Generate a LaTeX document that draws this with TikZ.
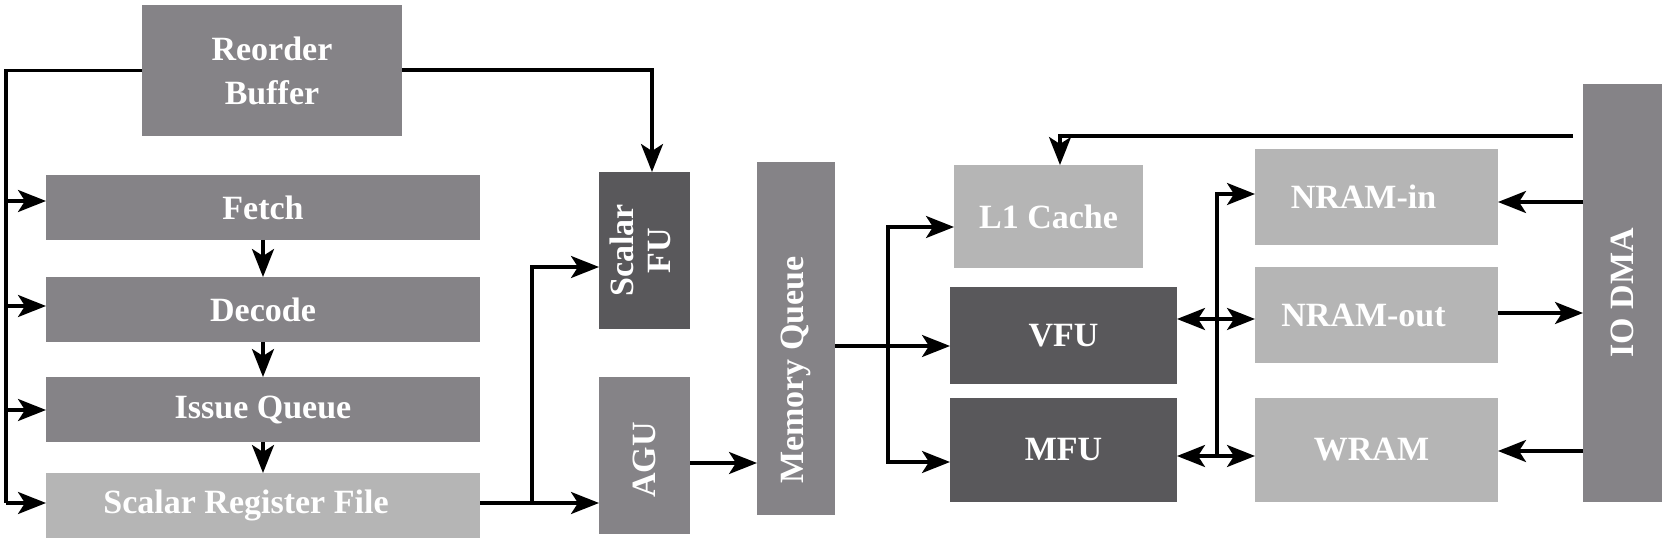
\documentclass[tikz,border=0pt]{standalone}
\usepackage{fontspec}
\setmainfont{Liberation Serif}
\usepackage{graphicx}
\usetikzlibrary{arrows.meta}
\definecolor{midgray}{RGB}{133,131,135}
\definecolor{darkgray}{RGB}{89,88,91}
\definecolor{lightgray}{RGB}{181,181,181}
\tikzset{
  box/.style={rectangle, inner sep=0pt, outer sep=0pt, text=white, align=center,
    font=\bfseries\fontsize{34}{44}\selectfont},
  midbox/.style={box, fill=midgray},
  darkbox/.style={box, fill=darkgray},
  lightbox/.style={box, fill=lightgray},
  wire/.style={line width=3.3pt, draw=black},
  arr/.style={wire, -{Stealth[length=28pt,width=22pt,inset=7pt]}},
  darr/.style={wire, {Stealth[length=28pt,width=22pt,inset=7pt]}-{Stealth[length=28pt,width=22pt,inset=7pt]}}
}
\begin{document}
\begin{tikzpicture}[x=1pt,y=-1pt]
\useasboundingbox (0,0) rectangle (1669,545);
% left column
\node[midbox, minimum width=260pt, minimum height=131pt] (rob) at (272,70.5) {Reorder\\Buffer};
\node[midbox, minimum width=434pt, minimum height=65pt] (fetch) at (263,207.5) {Fetch};
\node[midbox, minimum width=434pt, minimum height=65pt] (decode) at (263,309.5) {Decode};
\node[midbox, minimum width=434pt, minimum height=65pt] (issue) at (263,409.5) {Issue Queue};
\node[lightbox, minimum width=434pt, minimum height=65pt] (srf) at (263,505.5) {Scalar Register File\kern34pt};
% middle
\node[darkbox, minimum width=91pt, minimum height=157pt] (sfu) at (644.5,250.5)
  {\rotatebox{90}{\fontsize{34}{37}\selectfont\begin{tabular}{@{}c@{}}Scalar\\FU\end{tabular}}};
\node[midbox, minimum width=91pt, minimum height=157pt] (agu) at (644.5,455.5) {\rotatebox{90}{AGU\kern9pt}};
\node[midbox, minimum width=78pt, minimum height=353pt] (mq) at (796,338.5) {\rotatebox{90}{Memory Queue\kern63pt}};
% units
\node[lightbox, minimum width=189pt, minimum height=103pt] (l1) at (1048.5,216.5) {L1 Cache};
\node[darkbox, minimum width=227pt, minimum height=97pt] (vfu) at (1063.5,335.5) {VFU};
\node[darkbox, minimum width=227pt, minimum height=104pt] (mfu) at (1063.5,450) {MFU};
% memories
\node[lightbox, minimum width=243pt, minimum height=96pt] (nin) at (1376.5,197) {NRAM-in\kern26pt};
\node[lightbox, minimum width=243pt, minimum height=96pt] (nout) at (1376.5,315) {NRAM-out\kern26pt};
\node[lightbox, minimum width=243pt, minimum height=104pt] (wram) at (1376.5,450) {WRAM\kern10pt};
\node[midbox, minimum width=79pt, minimum height=418pt] (io) at (1622.5,293) {\rotatebox{90}{IO DMA}};
% coordinates
\coordinate (lb) at (6,503);
\coordinate (j1) at (532,503);
\coordinate (j2) at (888,346);
\coordinate (bb) at (1217,456);
% left trunk
\draw[wire] (rob.west) -| (lb);
\draw[arr] (lb |- 0,201) -- (fetch.west |- 0,201);
\draw[arr] (lb |- 0,306) -- (decode.west |- 0,306);
\draw[arr] (lb |- 0,410) -- (issue.west |- 0,410);
\draw[arr] (lb) -- (srf.west |- lb);
% pipeline
\draw[arr] (fetch.south) -- (decode.north);
\draw[arr] (decode.south) -- (issue.north);
\draw[arr] (issue.south) -- (srf.north);
% ROB to scalar FU
\draw[arr] (rob.east |- 0,70) -| ([xshift=7.5pt]sfu.north);
% SRF outputs
\draw[arr] (srf.east |- j1) -- (agu.west |- j1);
\draw[arr] (j1) |- (sfu.west |- 0,267);
% AGU to memory queue
\draw[arr] (agu.east |- 0,463) -- (mq.west |- 0,463);
% memory queue to units
\draw[arr] (mq.east |- j2) -- (vfu.west |- j2);
\draw[arr] (j2) |- (l1.west |- 0,227);
\draw[arr] (j2) |- (mfu.west |- 0,462);
% IO DMA to L1
\draw[arr] ([xshift=-10pt]io.west |- 0,136) -| ([xshift=11.5pt]l1.north);
% IO DMA and memories
\draw[arr] (io.west |- 0,202) -- (nin.east |- 0,202);
\draw[arr] (nout.east |- 0,313) -- (io.west |- 0,313);
\draw[arr] (io.west |- 0,451) -- (wram.east |- 0,451);
% bus
\draw[darr] (vfu.east |- 0,319) -- (nout.west |- 0,319);
\draw[darr] (mfu.east |- bb) -- (wram.west |- bb);
\draw[arr] (bb) |- (nin.west |- 0,194);
\end{tikzpicture}
\end{document}
